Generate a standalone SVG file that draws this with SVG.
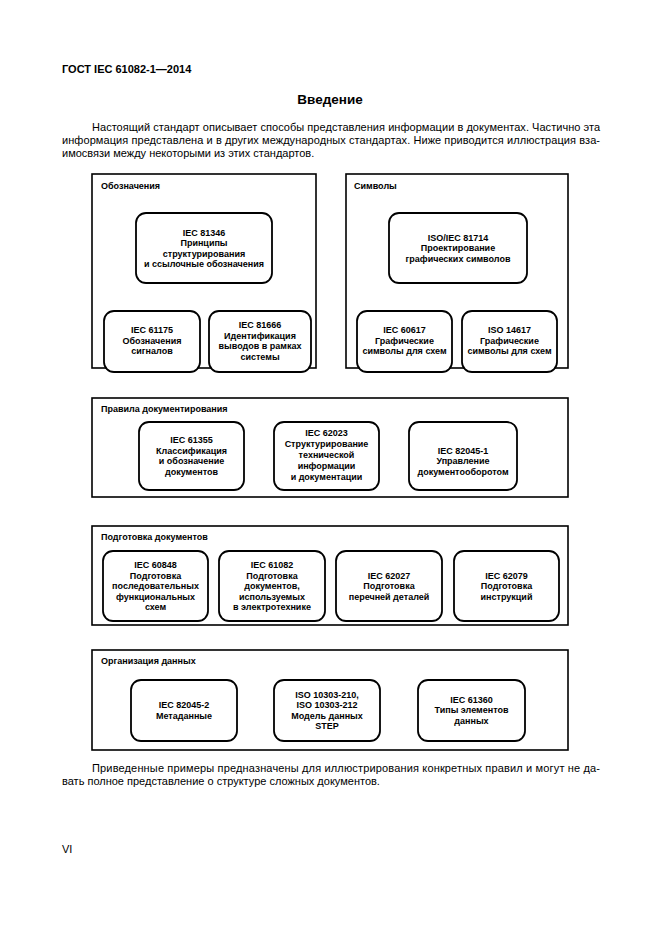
<svg xmlns="http://www.w3.org/2000/svg" width="661" height="935" viewBox="0 0 661 935">
<style>
.bg{fill:#fff}
.grp{fill:none;stroke:#000;stroke-width:1.6}
.nd{fill:#fff;stroke:#000;stroke-width:1.8}
.t{font-family:"Liberation Sans",Arial,sans-serif;fill:#000}
.p{font-size:11px}
.b{font-size:9px;font-weight:bold;text-anchor:middle}
.lbl{font-size:9px;font-weight:bold}
</style>
<rect class="bg" x="0" y="0" width="661" height="935"/>
<text class="t" x="62" y="73" font-size="11" font-weight="bold">ГОСТ IEC 61082-1—2014</text>
<text class="t" x="330" y="104" font-size="13.5" font-weight="bold" text-anchor="middle">Введение</text>
<text class="t p" x="92" y="131" textLength="508" lengthAdjust="spacing">Настоящий стандарт описывает способы представления информации в документах. Частично эта</text>
<text class="t p" x="62" y="144" textLength="538" lengthAdjust="spacing">информация представлена и в других международных стандартах. Ниже приводится иллюстрация вза-</text>
<text class="t p" x="62" y="157">имосвязи между некоторыми из этих стандартов.</text>

<g id="grp-oboznacheniya">
<rect class="grp" x="92" y="174" width="224" height="194"/>
<text class="t lbl" x="101" y="189">Обозначения</text>
</g>
<g id="grp-simvoly">
<rect class="grp" x="346" y="174" width="222" height="194"/>
<text class="t lbl" x="354" y="189">Символы</text>
</g>
<g id="grp-pravila">
<rect class="grp" x="92" y="398" width="476" height="99"/>
<text class="t lbl" x="101" y="412">Правила документирования</text>
</g>
<g id="grp-podgotovka">
<rect class="grp" x="92" y="526" width="476" height="99"/>
<text class="t lbl" x="101" y="540">Подготовка документов</text>
</g>
<g id="grp-organizaciya">
<rect class="grp" x="92" y="650" width="476" height="100"/>
<text class="t lbl" x="101" y="664">Организация данных</text>
</g>

<g id="n-81346">
<rect class="nd" x="136" y="213" width="136" height="70" rx="10"/>
<text class="t b" x="204" y="235.5">IEC 81346<tspan x="204" dy="10.5">Принципы</tspan><tspan x="204" dy="10.5">структурирования</tspan><tspan x="204" dy="10.5">и ссылочные обозначения</tspan></text>
</g>
<g id="n-61175">
<rect class="nd" x="104" y="311" width="96" height="61" rx="10"/>
<text class="t b" x="152" y="333">IEC 61175<tspan x="152" dy="10.5">Обозначения</tspan><tspan x="152" dy="10.5">сигналов</tspan></text>
</g>
<g id="n-81666">
<rect class="nd" x="209" y="311" width="102" height="61" rx="10"/>
<text class="t b" x="260" y="328">IEC 81666<tspan x="260" dy="10.5">Идентификация</tspan><tspan x="260" dy="10.5">выводов в рамках</tspan><tspan x="260" dy="10.5">системы</tspan></text>
</g>
<g id="n-81714">
<rect class="nd" x="389" y="213" width="138" height="70" rx="10"/>
<text class="t b" x="458" y="240.5">ISO/IEC 81714<tspan x="458" dy="10.5">Проектирование</tspan><tspan x="458" dy="10.5">графических символов</tspan></text>
</g>
<g id="n-60617">
<rect class="nd" x="357" y="311" width="95" height="61" rx="10"/>
<text class="t b" x="404.5" y="333">IEC 60617<tspan x="404.5" dy="10.5">Графические</tspan><tspan x="404.5" dy="10.5">символы для схем</tspan></text>
</g>
<g id="n-14617">
<rect class="nd" x="462" y="311" width="95" height="61" rx="10"/>
<text class="t b" x="509.5" y="333">ISO 14617<tspan x="509.5" dy="10.5">Графические</tspan><tspan x="509.5" dy="10.5">символы для схем</tspan></text>
</g>

<g id="n-61355">
<rect class="nd" x="139" y="422" width="105" height="68" rx="10"/>
<text class="t b" x="191.5" y="443">IEC 61355<tspan x="191.5" dy="10.5">Классификация</tspan><tspan x="191.5" dy="10.5">и обозначение</tspan><tspan x="191.5" dy="10.5">документов</tspan></text>
</g>
<g id="n-62023">
<rect class="nd" x="274" y="422" width="105" height="68" rx="10"/>
<text class="t b" x="326.5" y="436">IEC 62023<tspan x="326.5" dy="11">Структурирование</tspan><tspan x="326.5" dy="11">технической</tspan><tspan x="326.5" dy="11">информации</tspan><tspan x="326.5" dy="11">и документации</tspan></text>
</g>
<g id="n-82045-1">
<rect class="nd" x="409" y="422" width="108" height="68" rx="10"/>
<text class="t b" x="463" y="453.5">IEC 82045-1<tspan x="463" dy="10.5">Управление</tspan><tspan x="463" dy="10.5">документооборотом</tspan></text>
</g>

<g id="n-60848">
<rect class="nd" x="103" y="551" width="105" height="70" rx="10"/>
<text class="t b" x="155.5" y="568">IEC 60848<tspan x="155.5" dy="10.5">Подготовка</tspan><tspan x="155.5" dy="10.5">последовательных</tspan><tspan x="155.5" dy="10.5">функциональных</tspan><tspan x="155.5" dy="10.5">схем</tspan></text>
</g>
<g id="n-61082">
<rect class="nd" x="219" y="551" width="106" height="70" rx="10"/>
<text class="t b" x="272" y="568">IEC 61082<tspan x="272" dy="10.5">Подготовка</tspan><tspan x="272" dy="10.5">документов,</tspan><tspan x="272" dy="10.5">используемых</tspan><tspan x="272" dy="10.5">в электротехнике</tspan></text>
</g>
<g id="n-62027">
<rect class="nd" x="336" y="551" width="106" height="70" rx="10"/>
<text class="t b" x="389" y="578.5">IEC 62027<tspan x="389" dy="10.5">Подготовка</tspan><tspan x="389" dy="10.5">перечней деталей</tspan></text>
</g>
<g id="n-62079">
<rect class="nd" x="454" y="551" width="105" height="70" rx="10"/>
<text class="t b" x="506.5" y="578.5">IEC 62079<tspan x="506.5" dy="10.5">Подготовка</tspan><tspan x="506.5" dy="10.5">инструкций</tspan></text>
</g>

<g id="n-82045-2">
<rect class="nd" x="131" y="680" width="106" height="61" rx="10"/>
<text class="t b" x="184" y="708">IEC 82045-2<tspan x="184" dy="10.5">Метаданные</tspan></text>
</g>
<g id="n-10303">
<rect class="nd" x="274" y="680" width="106" height="61" rx="10"/>
<text class="t b" x="327" y="697.5">ISO 10303-210,<tspan x="327" dy="10.5">ISO 10303-212</tspan><tspan x="327" dy="10.5">Модель данных</tspan><tspan x="327" dy="10.5">STEP</tspan></text>
</g>
<g id="n-61360">
<rect class="nd" x="418" y="680" width="107" height="61" rx="10"/>
<text class="t b" x="471.5" y="702.5">IEC 61360<tspan x="471.5" dy="10.5">Типы элементов</tspan><tspan x="471.5" dy="10.5">данных</tspan></text>
</g>

<g id="connectors"></g>

<text class="t p" x="92" y="772" textLength="508" lengthAdjust="spacing">Приведенные примеры предназначены для иллюстрирования конкретных правил и могут не да-</text>
<text class="t p" x="62" y="785">вать полное представление о структуре сложных документов.</text>
<text class="t p" x="62" y="853">VI</text>
</svg>
